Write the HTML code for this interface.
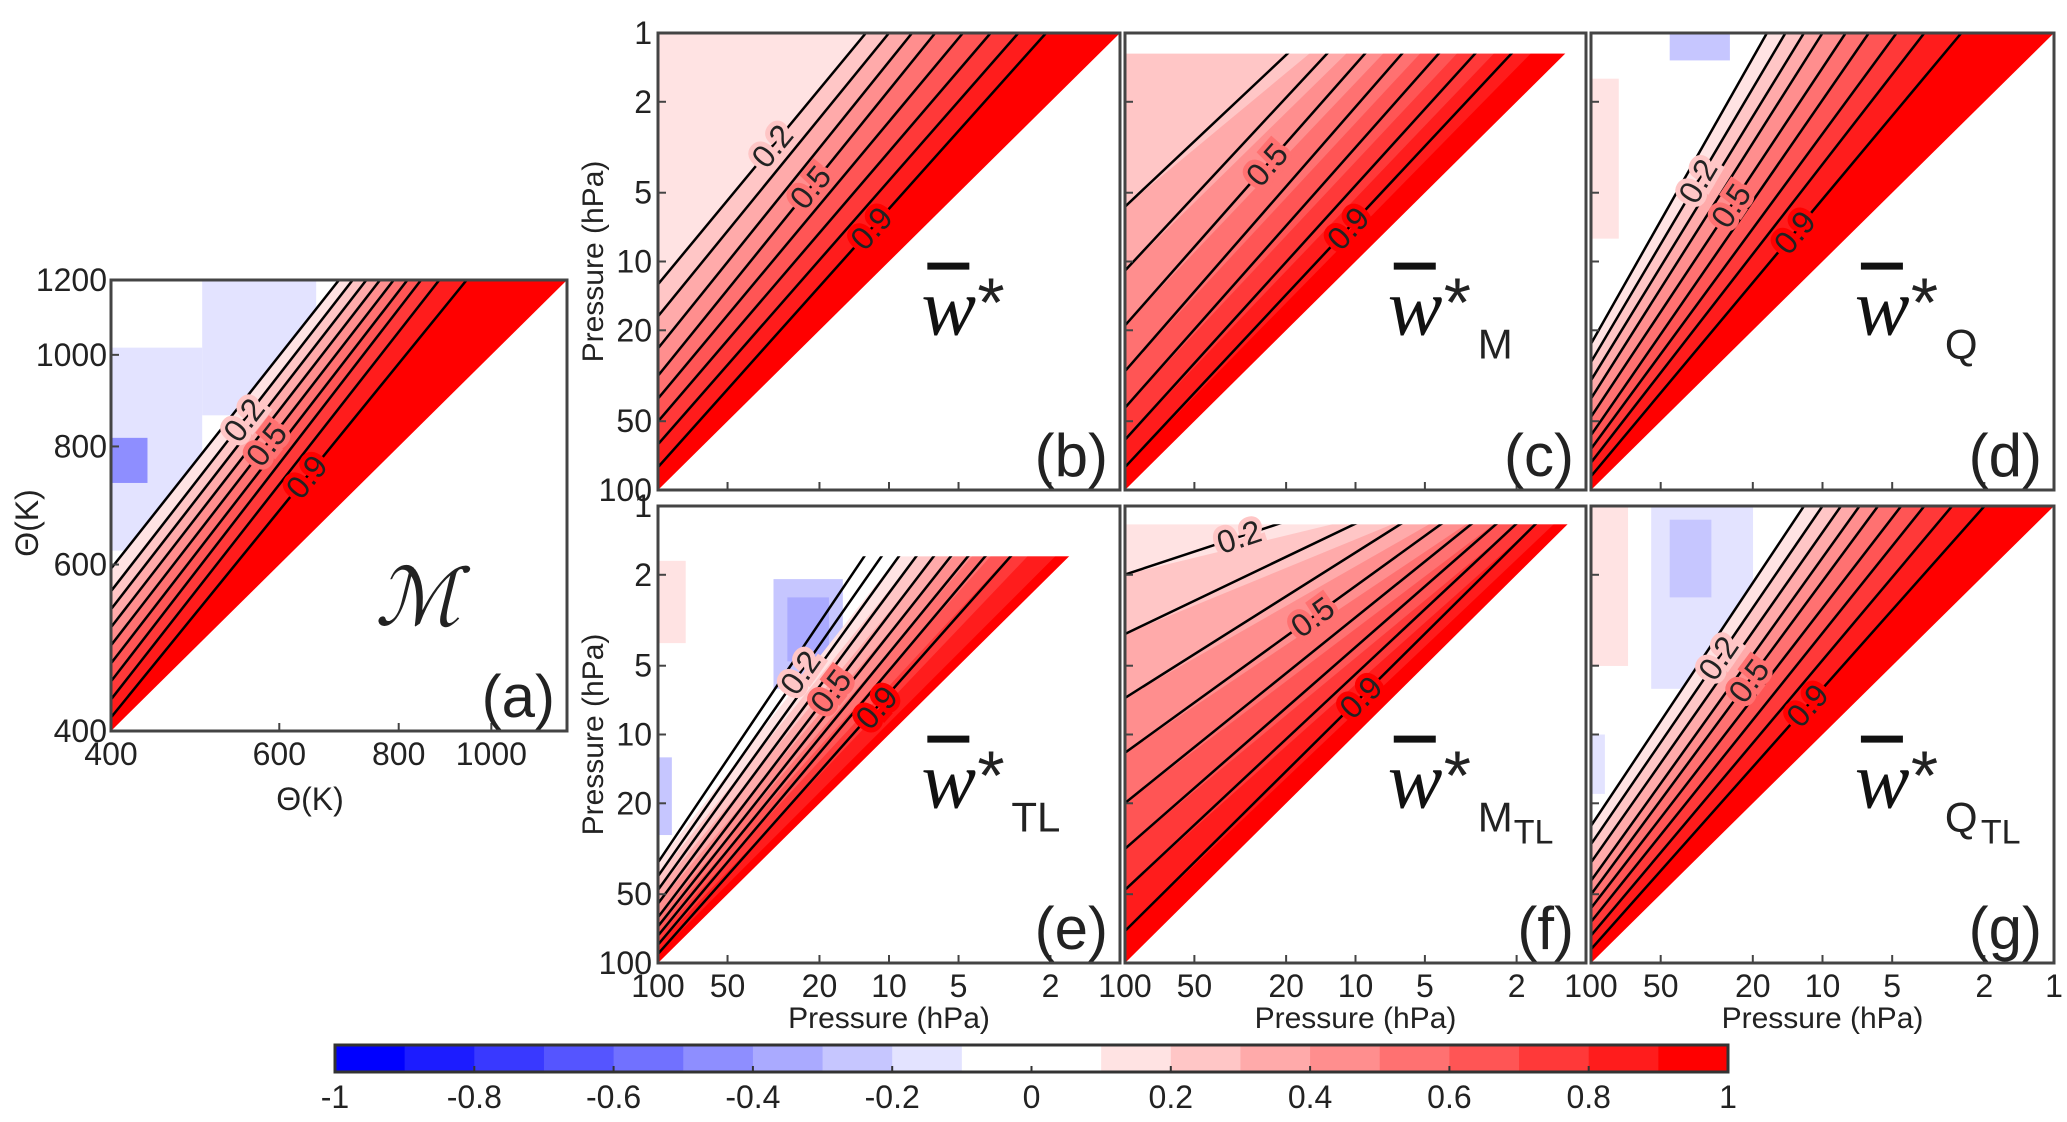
<!DOCTYPE html>
<html><head><meta charset="utf-8">
<style>
html,body{margin:0;padding:0;background:#fff;}
svg{display:block;}
text{font-family:"Liberation Sans Narrow","Liberation Sans",sans-serif;fill:#222;}
.lab{font-family:"Liberation Serif",serif;font-style:italic;fill:#111;}
</style></head>
<body>
<svg id="fig" width="2067" height="1122" viewBox="0 0 2067 1122">
<g id="root"></g>
</svg>
<script>
// ----- data -----
const contourLevels = [0.1,0.2,0.3,0.4,0.5,0.6,0.7,0.8,0.9];
const labelLevels = [0.2,0.5,0.9];
const panelNames = ['a','b','c','d','e','f','g'];
const vLeft = {
 a:[0.36,0.31,0.27,0.23,0.19,0.15,0.11,0.07,0.03],
 b:[1.6,0.45,0.38,0.31,0.25,0.2,0.15,0.1,0.05],
 c:[1.9,1.6,0.62,0.48,0.36,0.26,0.18,0.11,0.05],
 d:[0.32,0.28,0.24,0.2,0.16,0.12,0.09,0.06,0.03],
 e:[0.22,0.19,0.16,0.13,0.10,0.08,0.06,0.04,0.02],
 f:[1.6,0.85,0.72,0.58,0.46,0.35,0.25,0.16,0.07],
 g:[0.3,0.26,0.22,0.18,0.15,0.12,0.09,0.06,0.03]
};
const uTop = {
 a:[0.50,0.53,0.56,0.59,0.62,0.65,0.68,0.72,0.78],
 b:[0.2,0.45,0.5,0.55,0.6,0.66,0.72,0.78,0.84],
 c:[0.1,0.25,0.4,0.48,0.56,0.64,0.72,0.8,0.88],
 d:[0.38,0.42,0.46,0.5,0.55,0.6,0.66,0.72,0.8],
 e:[0.52,0.56,0.6,0.64,0.68,0.72,0.76,0.8,0.86],
 f:[0.2,0.45,0.58,0.66,0.74,0.8,0.85,0.89,0.93],
 g:[0.46,0.5,0.54,0.58,0.62,0.67,0.72,0.78,0.85]
};
const topFill = {a:1,b:1,c:0.955,d:1,e:0.89,f:0.96,g:1};
const panelTitles = {b:['',''],c:['M',''],d:['Q',''],e:['TL',''],f:['M','TL'],g:['Q','TL']};
const cbTicks = [-1,-0.8,-0.6,-0.4,-0.2,0,0.2,0.4,0.6,0.8,1];
const pTicks = [1,2,5,10,20,50,100];
const thTicks = [400,600,800,1000];
const thYTicks = [400,600,800,1000,1200];
const bluePatches = [
 ['a',0.0,0.48,0.12,0.72,-0.3],['a',0.0,0.4,0.2,0.85,-0.1],['a',0.2,0.7,0.45,1.0,-0.1],['a',0.0,0.55,0.08,0.65,-0.4],
 ['d',0.17,0.94,0.3,1.0,-0.2],
 ['e',0.25,0.6,0.4,0.84,-0.2],['e',0.28,0.66,0.37,0.8,-0.3],['e',0.0,0.28,0.03,0.45,-0.2],
 ['g',0.13,0.6,0.35,1.0,-0.1],['g',0.17,0.8,0.26,0.97,-0.2],['g',0.0,0.37,0.03,0.5,-0.1]
];
const pinkPatches = [['d',0.0,0.55,0.06,0.9,0.1],['g',0.0,0.65,0.08,1.0,0.1],['e',0.0,0.7,0.06,0.88,0.1]];

// ----- helpers -----
const NS='http://www.w3.org/2000/svg';
const root=document.getElementById('root');
function mk(tag,attrs,parent){const e=document.createElementNS(NS,tag);for(const k in attrs)e.setAttribute(k,attrs[k]);(parent||root).appendChild(e);return e;}
function color(v){
  const idx=Math.floor(Math.abs(v)*10+1e-9);
  const f=idx<=0?0:Math.min(1,idx/9);
  const c=Math.round(255*(1-f));
  return v>=0?`rgb(255,${c},${c})`:`rgb(${c},${c},255)`;
}
const geom={
 a:[111,280,456,451], b:[658,33,462,457], c:[1125,33,461,457], d:[1591,33,463,457],
 e:[658,506,462,457], f:[1125,506,461,457], g:[1591,506,463,457]
};
function drawPanel(p){
  const [X,Y,W,H]=geom[p];
  const sx=u=>X+u*W, sy=v=>Y+(1-v)*H;
  const g=mk('g',{});
  
  
  const tf=topFill[p];
  const cp=mk('clipPath',{id:'clip'+p},g);
  mk('rect',{x:X,y:Y,width:W,height:H},cp);
  const cp2=mk('clipPath',{id:'clipf'+p},g);
  mk('rect',{x:X,y:sy(tf),width:W,height:H*tf},cp2);
  const body=mk('g',{'clip-path':'url(#clip'+p+')'},g);
  const vl=vLeft[p], ut=uTop[p];
  let bg=0; for(let k=0;k<9;k++) if(vl[k]>1.2) bg=k+1;
  mk('rect',{x:X,y:sy(tf),width:W,height:H*tf,fill:bg?color(contourLevels[bg-1]+0.05):'#fff'},body);
  bluePatches.filter(b=>b[0]===p).forEach(b=>{
    const r=mk('rect',{x:sx(b[1]),y:sy(b[4]),width:(b[3]-b[1])*W,height:(b[4]-b[2])*H,fill:color(b[5]-0.05)},body);
    
    
  });
  pinkPatches.filter(b=>b[0]===p).forEach(b=>{
    mk('rect',{x:sx(b[1]),y:sy(b[4]),width:(b[3]-b[1])*W,height:(b[4]-b[2])*H,fill:color(b[5]+0.05)},body);
  });
  for(let k=0;k<9;k++){
    if(vl[k]>1.2) continue;
    const poly=[[0,vl[k]],[ut[k],1],[1,1],[1,0],[0,0]];
    const pg=mk('polygon',{points:poly.map(q=>sx(q[0])+','+sy(Math.min(q[1],tf))).join(' '),fill:color(contourLevels[k]+0.05)},body);
    
    
  }
  mk('polygon',{points:`${sx(0)},${sy(0)} ${sx(1)},${sy(1)} ${sx(1.2)},${sy(1)} ${sx(1.2)},${sy(-0.2)} ${sx(0)},${sy(-0.2)}`,fill:'#fff'},body);
  if(tf<1) mk('rect',{x:X,y:Y,width:W,height:(1-tf)*H,fill:'#fff'},body);
  const lines=mk('g',{'clip-path':'url(#clipf'+p+')'},body);
  for(let k=0;k<9;k++){
    if(vl[k]>1.2) continue;
    const ln=mk('line',{x1:sx(0),y1:sy(vl[k]),x2:sx(ut[k]),y2:sy(1),stroke:'#000','stroke-width':2.5},lines);
    
    
  }
  for(let k=0;k<9;k++){
    if(vl[k]>1.2) continue;
    if(labelLevels.some(L=>Math.abs(L-contourLevels[k])<1e-6)){
      const t=0.55, ux=ut[k]*t, vy=vl[k]+(1-vl[k])*t;
      if(vy>tf) continue;
      const ang=Math.atan2(sy(1)-sy(vl[k]),sx(ut[k])-sx(0))*180/Math.PI;
      const tx=mk('text',{x:sx(ux),y:sy(vy)+11,'font-size':32,'text-anchor':'middle',transform:`rotate(${ang} ${sx(ux)} ${sy(vy)})`,stroke:color(contourLevels[k]+0.05),'stroke-width':10,'paint-order':'stroke',fill:'#111'},body);
      tx.textContent=String(contourLevels[k]);
      
      
    }
  }
  const fr=mk('rect',{x:X,y:Y,width:W,height:H,fill:'none',stroke:'#444','stroke-width':3},g);
  
  
  return {sx,sy,X,Y,W,H,g};
}
const logP=v=>Math.log10(v)/2;
panelNames.forEach(p=>{
  const P=drawPanel(p);
  if(p==='a'){
    const lt=v=>Math.log(v/400)/Math.log(1200/400);
    thYTicks.forEach(v=>{
      mk('line',{x1:P.X,y1:P.sy(lt(v)),x2:P.X+8,y2:P.sy(lt(v)),stroke:'#444','stroke-width':2},P.g);
      const t=mk('text',{x:P.X-4,y:P.sy(lt(v))+11,'font-size':32,'text-anchor':'end'},P.g);t.textContent=v;
      
      
    });
    thTicks.forEach(v=>{
      const xx=P.X+lt(v)*P.W;
      mk('line',{x1:xx,y1:P.Y+P.H,x2:xx,y2:P.Y+P.H-8,stroke:'#444','stroke-width':2},P.g);
      const t=mk('text',{x:xx,y:P.Y+P.H+34,'font-size':32,'text-anchor':'middle'},P.g);t.textContent=v;
      
      
    });
    const xt=mk('text',{x:310,y:810,'font-size':32,'text-anchor':'middle'},P.g);xt.textContent='Θ(K)';
    
    
    const yt=mk('text',{x:38,y:523,'font-size':32,'text-anchor':'middle',transform:'rotate(-90 38 523)'},P.g);yt.textContent='Θ(K)';
    
    
    const m=mk('text',{x:375,y:625,'font-size':80,'font-family':'Liberation Serif,serif','font-style':'italic'},P.g);m.textContent='ℳ';
    
    
  } else {
    pTicks.forEach(v=>{
      const yy=P.sy(1-logP(v));
      mk('line',{x1:P.X,y1:yy,x2:P.X+8,y2:yy,stroke:'#444','stroke-width':2},P.g);
      if(p==='b'||p==='e'){
        const t=mk('text',{x:P.X-6,y:yy+11,'font-size':32,'text-anchor':'end'},P.g);t.textContent=v;
        
        
      }
      const xx=P.sx(1-logP(v));
      mk('line',{x1:xx,y1:P.Y+P.H,x2:xx,y2:P.Y+P.H-8,stroke:'#444','stroke-width':2},P.g);
      if(p>='e' && !(p!=='g' && v===1)){
        const t=mk('text',{x:xx,y:P.Y+P.H+34,'font-size':32,'text-anchor':'middle'},P.g);t.textContent=v;
        
        
      }
    });
    if(p==='b'||p==='e'){
      const cy=P.Y+P.H/2;
      const yt=mk('text',{x:603,y:cy,'font-size':30,'text-anchor':'middle',transform:`rotate(-90 603 ${cy})`},P.g);yt.textContent='Pressure (hPa)';
      
      
    }
    if(p>='e'){
      const xt=mk('text',{x:P.X+P.W/2,y:1028,'font-size':30,'text-anchor':'middle'},P.g);xt.textContent='Pressure (hPa)';
      
      
    }
    const tx=P.X+P.W*0.57, ty=P.Y+P.H*0.66;
    const tt=mk('text',{x:tx,y:ty,'font-size':82,class:'lab'},P.g);
    
    
    tt.textContent='w';
    mk('rect',{x:tx+6,y:ty-72,width:42,height:7,fill:'#111'},P.g);
    const st=mk('text',{x:tx+56,y:ty-8,'font-size':70,'font-family':'Liberation Sans,sans-serif'},P.g);st.textContent='*';
    const sub=panelTitles[p];
    if(sub[0]){
      const s1=mk('text',{x:tx+90,y:ty+24,'font-size':42,'font-family':'Liberation Serif,serif'},P.g);s1.textContent=sub[0];
      if(sub[1]){const s2=mk('text',{x:tx+126,y:ty+36,'font-size':34,'font-family':'Liberation Serif,serif'},P.g);s2.textContent=sub[1];}
    }
  }
  const pl=mk('text',{x:P.X+P.W-12,y:P.Y+P.H-14,'font-size':60,'text-anchor':'end','font-family':'Liberation Sans,sans-serif',fill:'#000'},P.g);
  pl.textContent='('+p+')';
  
  
});
// ----- colorbar -----
const cb=mk('g',{});


const CX=335,CW=1393,CY=1045,CH=27;
const cbx=v=>CX+(v+1)/2*CW;
for(let i=0;i<20;i++){
  const v0=-1+i*0.1;
  const r=mk('rect',{x:cbx(v0),y:CY,width:CW/20+0.6,height:CH,fill:color(v0+0.05)},cb);
  
  
}
mk('rect',{x:CX,y:CY,width:CW,height:CH,fill:'none',stroke:'#333','stroke-width':3},cb);
cbTicks.forEach(v=>{
  mk('line',{x1:cbx(v),y1:CY+CH,x2:cbx(v),y2:CY+CH-6,stroke:'#333','stroke-width':2},cb);
  const t=mk('text',{x:cbx(v),y:1108,'font-size':32,'text-anchor':'middle'},cb);t.textContent=v;
  
  
});
</script>
</body></html>
